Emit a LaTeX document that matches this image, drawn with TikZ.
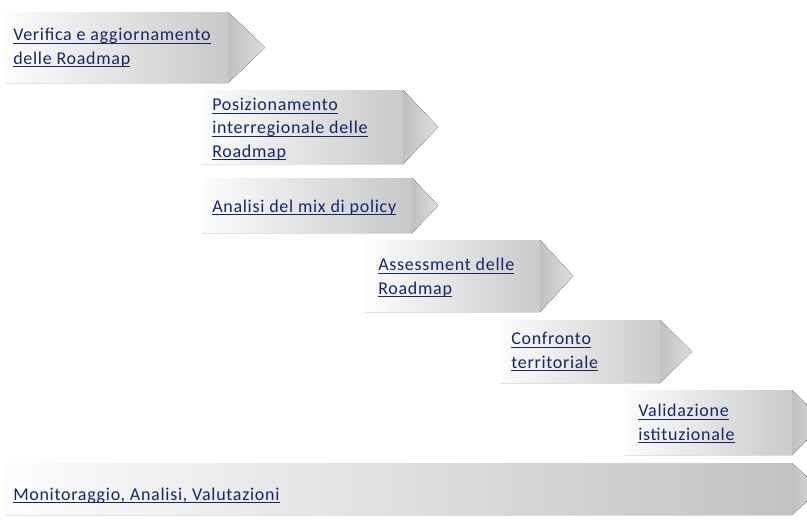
\documentclass[tikz,border=0pt]{standalone}
\usepackage{xcolor}
\usepackage{fontspec}
\setmainfont{Carlito}[LetterSpace=4]
\usepackage{tikz}

\definecolor{linkblue}{RGB}{22,38,108}
\definecolor{chevlight}{RGB}{252,252,252}
\definecolor{chevdark}{RGB}{192,192,192}
\definecolor{chevtip}{RGB}{222,222,222}

% underlined link text
\newcommand{\lnk}[1]{\setbox0\hbox{#1}\rlap{\color{linkblue}\rule[-2.6pt]{\wd0}{0.9pt}}\box0}

\tikzset{
  chevbody/.style={left color=chevlight, right color=chevdark},
  chevpoint/.style={left color=chevdark, right color=chevtip},
  roadtext/.style={anchor=base west, inner sep=0pt, align=left, text=linkblue,
    font=\fontsize{13.5}{17.3}\selectfont},
}

\begin{document}
\begin{tikzpicture}[x=0.75pt,y=0.75pt,yscale=-1,xscale=1]
\useasboundingbox (0,0) rectangle (807,519);
\fill[white] (0,0) rectangle (807,519);

%Shape: Chevron [id:verif]
\fill [chevbody] (5,12) -- (228,12) -- (265,47.5) -- (228,83) -- (5,83) -- cycle ;
\fill [chevpoint] (228,12) -- (265,47.5) -- (228,83) -- cycle ;
%Shape: Chevron [id:posiz]
\fill [chevbody] (202,90) -- (403,90) -- (438,127) -- (403,164) -- (202,164) -- cycle ;
\fill [chevpoint] (403,90) -- (438,127) -- (403,164) -- cycle ;
%Shape: Chevron [id:analisi]
\fill [chevbody] (202,178) -- (412,178) -- (438,205.5) -- (412,233) -- (202,233) -- cycle ;
\fill [chevpoint] (412,178) -- (438,205.5) -- (412,233) -- cycle ;
%Shape: Chevron [id:assess]
\fill [chevbody] (365,240) -- (540,240) -- (573,276) -- (540,312) -- (365,312) -- cycle ;
\fill [chevpoint] (540,240) -- (573,276) -- (540,312) -- cycle ;
%Shape: Chevron [id:confr]
\fill [chevbody] (500,320) -- (660,320) -- (692,351.5) -- (660,383) -- (500,383) -- cycle ;
\fill [chevpoint] (660,320) -- (692,351.5) -- (660,383) -- cycle ;
%Shape: Chevron [id:valid]
\fill [chevbody] (625,390) -- (792,390) -- (825,422.5) -- (792,455) -- (625,455) -- cycle ;
\fill [chevpoint] (792,390) -- (825,422.5) -- (792,455) -- cycle ;
%Shape: Chevron [id:monit]
\fill [chevbody] (5,463) -- (792,463) -- (820,489) -- (792,515) -- (5,515) -- cycle ;
\fill [chevpoint] (792,463) -- (820,489) -- (792,515) -- cycle ;

% Text Node
\node (verif) [roadtext] at (13,64) {\lnk{Verifica e aggiornamento}\\\lnk{delle Roadmap}};
% Text Node
\node (posiz) [roadtext] at (212,157) {\lnk{Posizionamento}\\\lnk{interregionale delle}\\\lnk{Roadmap}};
% Text Node
\node (analisi) [roadtext] at (212,212) {\lnk{Analisi del mix di policy}};
% Text Node
\node (assess) [roadtext] at (378,294) {\lnk{Assessment delle}\\\lnk{Roadmap}};
% Text Node
\node (confr) [roadtext] at (511,368) {\lnk{Confronto}\\\lnk{territoriale}};
% Text Node
\node (valid) [roadtext] at (638,440) {\lnk{Validazione}\\\lnk{istituzionale}};
% Text Node
\node (monit) [roadtext] at (13,500) {\lnk{Monitoraggio, Analisi, Valutazioni}};

\end{tikzpicture}
\end{document}
